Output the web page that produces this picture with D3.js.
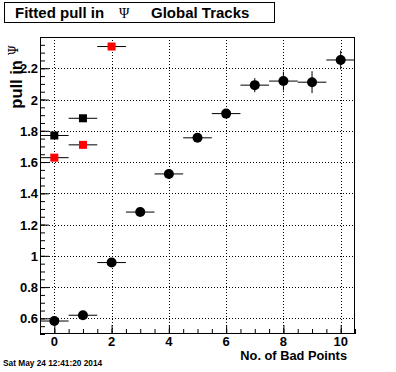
<!DOCTYPE html>
<html>
<head>
<meta charset="utf-8">
<script src="https://cdn.jsdelivr.net/npm/d3@7"></script>
<style>
  body { margin: 0; background: #fff; }
  text { font-family: "Liberation Sans", Arial, sans-serif; }
</style>
</head>
<body>
<div id="chart"></div>
<script>
// black circles: fitted pull vs no. of bad points
var badPoints = [0, 1, 2, 3, 4, 5, 6, 7, 8, 9, 10];
var pullValues = [0.583, 0.62, 0.957, 1.28, 1.524, 1.755, 1.91, 2.092, 2.118, 2.111, 2.253];
var pullErrors = [0.01, 0.01, 0.01, 0.01, 0.01, 0.012, 0.02, 0.045, 0.06, 0.07, 0.06];

// squares
var blackSqX = [0, 1];
var blackSqY = [1.77, 1.88];
var redSqX = [0, 1, 2];
var redSqY = [1.628, 1.71, 2.339];

var xTicks = [0, 2, 4, 6, 8, 10];
var yTicks = [0.6, 0.8, 1, 1.2, 1.4, 1.6, 1.8, 2, 2.2];

function drawChart() {
    var svgWidth = 396;
    var svgHeight = 372;

    var margin = { top: 37, right: 41, bottom: 38, left: 40 };
    var width = svgWidth - margin.left - margin.right;
    var height = svgHeight - margin.top - margin.bottom;

    var svg = d3.select("#chart")
        .append("svg")
        .attr("width", svgWidth)
        .attr("height", svgHeight);

    var chartGroup = svg.append("g")
        .attr("transform", `translate(${margin.left}, ${margin.top})`);

    var xScale = d3.scaleLinear().domain([-0.5, 10.5]).range([0, width]);
    var yScale = d3.scaleLinear().domain([0.5, 2.4]).range([height, 0]);

    // dotted grid
    chartGroup.selectAll(".gx")
        .data(xTicks)
        .enter()
        .append("line")
        .attr("x1", d => Math.round(xScale(d)) + 0.5)
        .attr("x2", d => Math.round(xScale(d)) + 0.5)
        .attr("y1", 0)
        .attr("y2", height)
        .attr("stroke", "black")
        .attr("stroke-dasharray", "1,2");

    chartGroup.selectAll(".gy")
        .data(yTicks)
        .enter()
        .append("line")
        .attr("x1", 0)
        .attr("x2", width)
        .attr("y1", d => Math.round(yScale(d)) + 0.5)
        .attr("y2", d => Math.round(yScale(d)) + 0.5)
        .attr("stroke", "black")
        .attr("stroke-dasharray", "1,2");

    // axes (ticks inside the frame, root style)
    var xMinor = d3.range(-0.5, 10.51, 0.5);
    chartGroup.append("g")
        .attr("transform", `translate(0, ${height})`)
        .call(d3.axisTop(xScale).tickValues(xMinor).tickSize(5).tickFormat(""))
        .call(g => g.select(".domain").remove());
    chartGroup.append("g")
        .attr("transform", `translate(0, ${height})`)
        .call(d3.axisTop(xScale).tickValues(xTicks).tickSize(9).tickFormat(""))
        .call(g => g.select(".domain").remove());

    var yMinor = d3.range(0.5, 2.401, 0.05);
    chartGroup.append("g")
        .call(d3.axisRight(yScale).tickValues(yMinor).tickSize(5).tickFormat(""))
        .call(g => g.select(".domain").remove());
    chartGroup.append("g")
        .call(d3.axisRight(yScale).tickValues(yTicks).tickSize(9).tickFormat(""))
        .call(g => g.select(".domain").remove());

    chartGroup.selectAll(".tick line").attr("stroke", "black");

    // tick labels
    chartGroup.selectAll(".xl")
        .data(xTicks)
        .enter()
        .append("text")
        .attr("x", d => xScale(d))
        .attr("y", height + 12)
        .style("text-anchor", "middle")
        .style("font-size", "13px")
        .style("font-weight", "bold")
        .text(d => d);

    chartGroup.selectAll(".yl")
        .data(yTicks)
        .enter()
        .append("text")
        .attr("x", -2)
        .attr("y", d => yScale(d) + 5)
        .style("text-anchor", "end")
        .style("font-size", "13px")
        .style("font-weight", "bold")
        .text(d => d);

    // frame
    chartGroup.append("rect")
        .attr("x", 0.5)
        .attr("y", 0.5)
        .attr("width", width - 1)
        .attr("height", height - 1)
        .attr("fill", "none")
        .attr("stroke", "black");

    // error bars for circles
    var errGroup = chartGroup.append("g");
    badPoints.forEach(function(x, i) {
        errGroup.append("line")
            .attr("x1", xScale(x - 0.5))
            .attr("x2", xScale(x + 0.5))
            .attr("y1", yScale(pullValues[i]))
            .attr("y2", yScale(pullValues[i]))
            .attr("stroke", "black");
        errGroup.append("line")
            .attr("x1", xScale(x))
            .attr("x2", xScale(x))
            .attr("y1", yScale(pullValues[i] - pullErrors[i]))
            .attr("y2", yScale(pullValues[i] + pullErrors[i]))
            .attr("stroke", "black");
    });

    // horizontal bars for squares
    blackSqX.forEach(function(x, i) {
        errGroup.append("line")
            .attr("x1", xScale(x - 0.5))
            .attr("x2", xScale(x + 0.5))
            .attr("y1", yScale(blackSqY[i]))
            .attr("y2", yScale(blackSqY[i]))
            .attr("stroke", "black");
    });
    redSqX.forEach(function(x, i) {
        errGroup.append("line")
            .attr("x1", xScale(x - 0.5))
            .attr("x2", xScale(x + 0.5))
            .attr("y1", yScale(redSqY[i]))
            .attr("y2", yScale(redSqY[i]))
            .attr("stroke", "black");
    });

    chartGroup.selectAll(".pt")
        .data(badPoints)
        .enter()
        .append("circle")
        .attr("cx", d => xScale(d))
        .attr("cy", (d, i) => yScale(pullValues[i]))
        .attr("r", 5)
        .attr("fill", "black");

    chartGroup.selectAll(".bsq")
        .data(blackSqX)
        .enter()
        .append("rect")
        .attr("x", d => xScale(d) - 4)
        .attr("y", (d, i) => yScale(blackSqY[i]) - 4)
        .attr("width", 8)
        .attr("height", 8)
        .attr("fill", "black");

    chartGroup.selectAll(".rsq")
        .data(redSqX)
        .enter()
        .append("rect")
        .attr("x", d => xScale(d) - 4)
        .attr("y", (d, i) => yScale(redSqY[i]) - 4)
        .attr("width", 8)
        .attr("height", 8)
        .attr("fill", "#ff0000");

    // axis titles
    svg.append("text")
        .attr("x", 347)
        .attr("y", 360)
        .style("text-anchor", "end")
        .style("font-size", "12.8px")
        .style("font-weight", "bold")
        .text("No. of Bad Points");

    var yTitle = svg.append("text")
        .attr("transform", "translate(22, 45) rotate(-90)")
        .style("text-anchor", "end")
        .style("font-size", "16.5px")
        .style("font-weight", "bold");
    yTitle.append("tspan").text("pull in ");
    yTitle.append("tspan")
        .style("font-family", "'DejaVu Serif', serif")
        .style("font-weight", "normal")
        .style("font-size", "12px")
        .attr("dy", -4)
        .text("\u03A8");

    // title box
    svg.append("rect")
        .attr("x", 4.5)
        .attr("y", 2.5)
        .attr("width", 270)
        .attr("height", 20)
        .attr("fill", "white")
        .attr("stroke", "black");

    var title = svg.append("text")
        .attr("x", 15)
        .attr("y", 18)
        .style("font-size", "15px")
        .style("font-weight", "bold");
    title.append("tspan").text("Fitted pull in");
    title.append("tspan")
        .attr("x", 119)
        .style("font-family", "'Liberation Serif', serif")
        .style("font-weight", "normal")
        .style("font-size", "14px")
        .text("\u03A8");
    title.append("tspan")
        .attr("x", 151)
        .text("Global Tracks");

    svg.append("text")
        .attr("x", 3)
        .attr("y", 366)
        .style("font-size", "8.3px")
        .style("font-weight", "bold")
        .text("Sat May 24 12:41:20 2014");
}

drawChart();
</script>
</body>
</html>
